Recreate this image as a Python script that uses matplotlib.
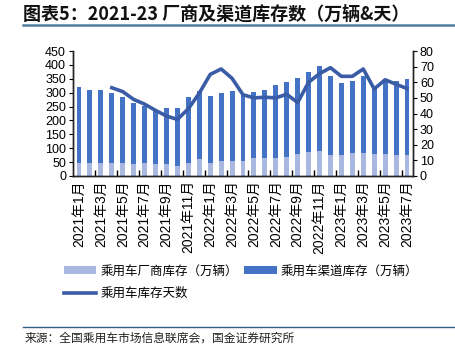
import matplotlib
matplotlib.use('Agg')
import matplotlib.pyplot as plt
import numpy as np

plt.rcParams['font.family'] = ['Liberation Sans', 'Noto Sans CJK SC', 'DejaVu Sans']

# months 2021-01 .. 2023-07
months = ['%d年%d月' % (2021 + m // 12, m % 12 + 1) for m in range(31)]

factory = [48, 48, 48, 48, 48, 43, 48, 43, 43, 36,
           48, 61, 48, 53, 53, 53, 66, 66, 66, 70,
           78, 86, 90, 76, 76, 84, 84, 79, 79, 74, 74]
total = [320, 308, 308, 300, 285, 261, 252, 233, 244, 244,
         283, 305, 288, 300, 305, 292, 303, 310, 326, 338,
         352, 373, 396, 360, 334, 343, 360, 322, 348, 342, 348]
channel = [t - f for t, f in zip(total, factory)]
days = [None, None, None, 56.5, 54, 49, 46, 42, 38.4, 36.2,
        43, 53, 65, 68.5, 62.5, 52, 50, 50.4, 50, 52.3,
        47, 60, 65.5, 69.3, 63.8, 63.8, 68.5, 55.7, 61.6, 58.7, 56]

c_light = '#A8B8E0'
c_dark = '#4472C4'
c_line = '#3A5CA6'

fig = plt.figure(figsize=(4.56, 3.47), dpi=100)
ax = fig.add_axes([73/456, 1 - 176/347, 340/456, 125/347])
ax2 = ax.twinx()

x = np.arange(len(months))
b1 = ax.bar(x, factory, width=0.45, color=c_light, zorder=2)
b2 = ax.bar(x, channel, width=0.45, bottom=factory, color=c_dark, zorder=2)

dx = [i for i, d in enumerate(days) if d is not None]
dy = [d for d in days if d is not None]
l1, = ax2.plot(dx, dy, color=c_line, lw=2.6, solid_joinstyle='round')

ax.set_xlim(-0.55, 30.55)
ax.set_ylim(0, 450)
ax.set_yticks(range(0, 451, 50))
ax2.set_ylim(0, 80)
ax2.set_yticks(range(0, 81, 10))

ax.set_xticks(x[::2])
ax.set_xticklabels(months[::2], rotation=90, fontsize=10)
ax.set_xticks(np.arange(1.5, 30, 2), minor=True)
ax.tick_params(axis='x', which='major', length=0, pad=3)
ax.tick_params(axis='x', which='minor', direction='in', length=4, width=1)
ax.tick_params(axis='y', direction='out', length=3, labelsize=9, pad=2)
ax2.tick_params(axis='y', direction='out', length=3, labelsize=9, pad=2)

for a in (ax, ax2):
    a.spines['top'].set_visible(False)
    for s in ('left', 'right', 'bottom'):
        a.spines[s].set_linewidth(1)
        a.spines[s].set_color('#222222')

fig.legend([b1, l1, b2],
           ['乘用车厂商库存（万辆）', '乘用车库存天数', '乘用车渠道库存（万辆）'],
           ncol=2, loc='center left', bbox_to_anchor=(64/456, 1 - 282/347),
           bbox_transform=fig.transFigure, borderaxespad=0, borderpad=0,
           frameon=False, handlelength=2.6, handleheight=0.6,
           columnspacing=0.45, labelspacing=0.75, handletextpad=0.35,
           prop={'family': ['Noto Sans CJK SC'], 'size': 9})

fig.text(23/456, 1 - 14/347, '图表5：2021-23 厂商及渠道库存数（万辆&天）',
         fontsize=13, fontweight='bold', va='center', ha='left',
         family=['Noto Sans CJK SC'], style='italic', color='#111111')
fig.add_artist(plt.Line2D([23/456, 1], [1 - 24.5/347, 1 - 24.5/347],
                          color='#4E7F9E', lw=1.8))
fig.add_artist(plt.Line2D([23/456, 1], [1 - 327/347, 1 - 327/347],
                          color='#2E5F8A', lw=1.0))
fig.text(25/456, 1 - 338/347, '来源：全国乘用车市场信息联席会，国金证券研究所',
         fontsize=8.5, va='center', ha='left', family=['Noto Sans CJK SC'],
         color='#222222')

fig.savefig('out.png', dpi=100)
